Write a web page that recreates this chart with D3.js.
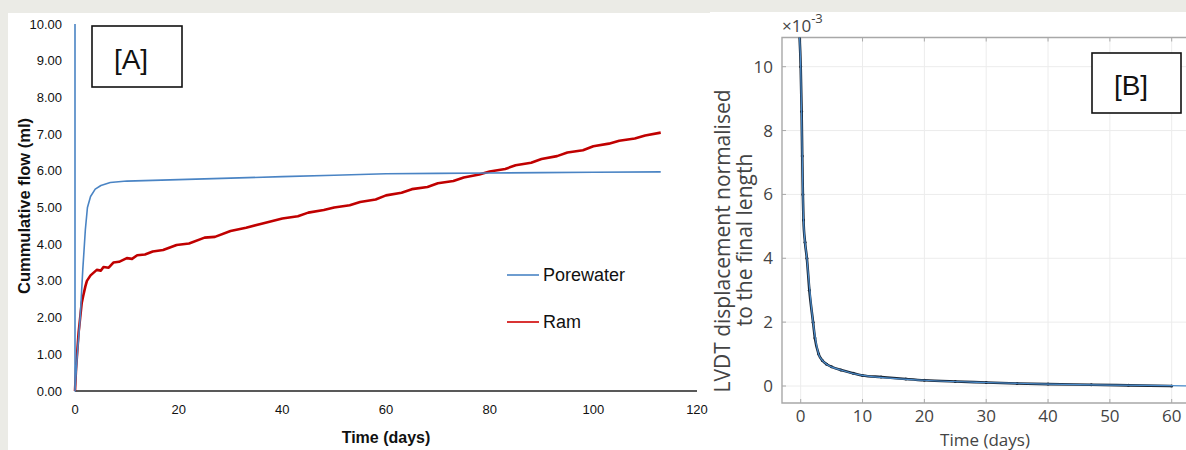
<!DOCTYPE html>
<html lang="en">
<head>
<meta charset="UTF-8">
<title>Cumulative flow and LVDT displacement</title>
<script src="https://d3js.org/d3.v7.min.js"></script>
<style>
    body { margin: 0; background: #ebebe6; }
    svg { display: block; }
    .tickA { font-family: "Liberation Sans", sans-serif; font-size: 13px; fill: #111; }
    .tickB { font-family: "Open Sans", sans-serif; font-size: 17px; fill: #444; }
</style>
</head>
<body>
<svg width="1186" height="450"></svg>
<script>
    // ---- panel A data (days, ml) ----
    const poreDays  = [0, 0, 0.45, 1.0, 1.5, 2.0, 2.4, 3.0, 3.9, 5.0, 6.8, 10, 15, 20, 30, 40, 50, 60, 70, 80, 90, 100, 113];
    const poreFlow  = [10, 0, 1.0, 2.0, 3.3, 4.4, 5.0, 5.3, 5.5, 5.6, 5.68, 5.72, 5.74, 5.76, 5.8, 5.84, 5.88, 5.92, 5.93, 5.94, 5.95, 5.96, 5.97];
    const ramDays   = [0, 0.2, 0.4, 0.7, 1, 1.3, 1.6, 2, 2.3, 3, 4.2, 5, 5.5, 6.5, 7.4, 8.5, 10, 11, 12, 13.5, 15, 17, 19.6, 22, 25, 27, 30, 33,
                       36, 40, 43, 45, 48, 50, 53, 55, 58, 60, 63, 65, 68, 70, 73, 75, 78, 80, 83, 85, 88, 90, 93, 95, 98, 100, 103, 105, 108, 110, 113];
    const ramFlow   = [0, 0.6, 1.0, 1.6, 2.0, 2.4, 2.6, 2.85, 3.0, 3.15, 3.3, 3.28, 3.38, 3.36, 3.5, 3.52, 3.62, 3.6, 3.7, 3.72, 3.8, 3.84, 3.98, 4.02, 4.18, 4.2, 4.36, 4.45,
                       4.56, 4.7, 4.76, 4.86, 4.93, 5.0, 5.06, 5.15, 5.22, 5.33, 5.4, 5.5, 5.56, 5.66, 5.72, 5.82, 5.9, 5.98, 6.05, 6.15, 6.22, 6.32, 6.4, 6.5, 6.56, 6.67, 6.74, 6.82, 6.88, 6.96, 7.04];
    const yTicksA   = [0, 1, 2, 3, 4, 5, 6, 7, 8, 9, 10];
    const xTicksA   = [0, 20, 40, 60, 80, 100, 120];

    // ---- panel B data (days, x1e-3) ----
    const lvdtDays  = [-0.2, 0, 0.15, 0.25, 0.35, 0.45, 0.7, 1.0, 1.4, 2.0, 2.3, 2.9, 3.5, 4.2, 5, 6.5, 8.5, 10, 13, 17, 20, 25, 30, 35, 40, 47, 53, 60];
    const lvdtVals  = [11, 10, 8.6, 7.2, 6.0, 5.2, 4.5, 4.0, 3.0, 2.0, 1.5, 1.0, 0.8, 0.68, 0.6, 0.5, 0.4, 0.33, 0.28, 0.22, 0.18, 0.14, 0.11, 0.08, 0.06, 0.04, 0.02, 0.0];
    const fitDays   = [-0.2, 0, 0.25, 0.45, 1.0, 2.0, 2.9, 3.5, 4.2, 6.5, 10, 20, 30, 40, 50, 60, 64];
    const fitVals   = [11, 10, 7.2, 5.2, 4.0, 2.0, 1.0, 0.8, 0.68, 0.5, 0.33, 0.18, 0.11, 0.06, 0.03, 0.01, 0.0];
    const yTicksB   = [0, 2, 4, 6, 8, 10];
    const xTicksB   = [0, 10, 20, 30, 40, 50, 60];

    const svg = d3.select("svg");

    // white panels
    svg.append("rect").attr("x", 8).attr("y", 13).attr("width", 702).attr("height", 437).attr("fill", "#fff");
    svg.append("rect").attr("x", 710).attr("y", 12).attr("width", 476).attr("height", 438).attr("fill", "#fff");

    /////////////////// PANEL A ///////////////////
    const xA = d3.scaleLinear().domain([0, 120]).range([75, 697]);
    const yA = d3.scaleLinear().domain([0, 10]).range([391, 24]);
    const gA = svg.append("g");

    gA.append("line").attr("x1", xA(0)).attr("x2", xA(120)).attr("y1", yA(0)).attr("y2", yA(0))
        .attr("stroke", "#222").attr("stroke-width", 1.3);

    gA.selectAll(".ya").data(yTicksA).enter().append("text")
        .attr("class", "tickA").attr("x", 62).attr("y", d => yA(d) + 4.5)
        .attr("text-anchor", "end").text(d => d.toFixed(2));
    gA.selectAll(".xa").data(xTicksA).enter().append("text")
        .attr("class", "tickA").attr("x", d => xA(d)).attr("y", 414)
        .attr("text-anchor", "middle").text(d => d);

    const lineA = d3.line().x(d => xA(d[0])).y(d => yA(d[1]));
    gA.append("path").datum(ramDays.map((d, i) => [d, ramFlow[i]]))
        .attr("d", lineA).attr("fill", "none").attr("stroke", "#c00000").attr("stroke-width", 2.6)
        .attr("stroke-linejoin", "round");
    gA.append("path").datum(poreDays.map((d, i) => [d, poreFlow[i]]))
        .attr("d", lineA).attr("fill", "none").attr("stroke", "#4a84c4").attr("stroke-width", 1.6)
        .attr("stroke-linejoin", "round");

    gA.append("text").attr("transform", "translate(30,206) rotate(-90)")
        .attr("text-anchor", "middle").attr("font-family", "Liberation Sans, sans-serif")
        .attr("font-weight", "bold").attr("font-size", 16.5).attr("fill", "#111")
        .text("Cummulative flow (ml)");
    gA.append("text").attr("x", 386).attr("y", 443)
        .attr("text-anchor", "middle").attr("font-family", "Liberation Sans, sans-serif")
        .attr("font-weight", "bold").attr("font-size", 16).attr("fill", "#111")
        .text("Time (days)");

    // legend
    const legend = [["Porewater", "#4a84c4", 275], ["Ram", "#d00000", 322]];
    legend.forEach(function (l) {
        gA.append("line").attr("x1", 507).attr("x2", 539).attr("y1", l[2]).attr("y2", l[2])
            .attr("stroke", l[1]).attr("stroke-width", 1.6);
        gA.append("text").attr("x", 543).attr("y", l[2] + 6)
            .attr("font-family", "Liberation Sans, sans-serif").attr("font-size", 18).attr("fill", "#111")
            .text(l[0]);
    });

    gA.append("rect").attr("x", 92).attr("y", 26).attr("width", 90).attr("height", 61)
        .attr("fill", "#fff").attr("stroke", "#111").attr("stroke-width", 1.6);
    gA.append("text").attr("x", 131).attr("y", 69).attr("text-anchor", "middle")
        .attr("font-family", "Liberation Sans, sans-serif").attr("font-size", 28).attr("fill", "#111")
        .text("[A]");

    /////////////////// PANEL B ///////////////////
    const xB = d3.scaleLinear().domain([0, 60]).range([800.7, 1171.7]);
    const yB = d3.scaleLinear().domain([0, 10]).range([386, 66.7]);
    const bLeft = 782, bTop = 37.5, bBottom = 403, bRight = 1186;
    const gB = svg.append("g");

    gB.selectAll(".gx").data(xTicksB).enter().append("line")
        .attr("x1", d => xB(d)).attr("x2", d => xB(d)).attr("y1", bTop).attr("y2", bBottom)
        .attr("stroke", "#ececec");
    gB.selectAll(".gy").data(yTicksB).enter().append("line")
        .attr("x1", bLeft).attr("x2", bRight).attr("y1", d => yB(d)).attr("y2", d => yB(d))
        .attr("stroke", "#ececec");
    // inner ticks
    gB.selectAll(".tx").data(xTicksB).enter().append("line")
        .attr("x1", d => xB(d)).attr("x2", d => xB(d)).attr("y1", bBottom).attr("y2", bBottom - 4)
        .attr("stroke", "#aaa");
    gB.selectAll(".tt").data(xTicksB).enter().append("line")
        .attr("x1", d => xB(d)).attr("x2", d => xB(d)).attr("y1", bTop).attr("y2", bTop + 4)
        .attr("stroke", "#aaa");
    gB.selectAll(".ty").data(yTicksB).enter().append("line")
        .attr("x1", bLeft).attr("x2", bLeft + 4).attr("y1", d => yB(d)).attr("y2", d => yB(d))
        .attr("stroke", "#aaa");

    gB.append("path").attr("d", `M${bRight},${bTop}H${bLeft}V${bBottom}H${bRight}`)
        .attr("fill", "none").attr("stroke", "#a8a8a8").attr("stroke-width", 1.4);

    gB.selectAll(".yb").data(yTicksB).enter().append("text")
        .attr("class", "tickB").attr("x", 773).attr("y", d => yB(d) + 6)
        .attr("text-anchor", "end").text(d => d);
    gB.selectAll(".xb").data(xTicksB).enter().append("text")
        .attr("class", "tickB").attr("x", d => xB(d)).attr("y", 422)
        .attr("text-anchor", "middle").text(d => d);

    const exp = gB.append("text").attr("x", 782).attr("y", 32).attr("class", "tickB")
        .attr("font-size", 19).attr("fill", "#444");
    exp.append("tspan").text("\u00d710");
    exp.append("tspan").attr("dy", -9).attr("font-size", 13).text("-3");

    svg.append("clipPath").attr("id", "clipB").append("rect")
        .attr("x", bLeft).attr("y", bTop).attr("width", bRight - bLeft).attr("height", bBottom - bTop);

    const lineB = d3.line().x(d => xB(d[0])).y(d => yB(d[1])).curve(d3.curveMonotoneX);
    const dataB = lvdtDays.map((d, i) => [d, lvdtVals[i]]);
    gB.append("path").datum(dataB).attr("clip-path", "url(#clipB)")
        .attr("d", lineB).attr("fill", "none").attr("stroke", "#1b2736").attr("stroke-width", 2.6)
        .attr("stroke-linejoin", "round");
    gB.append("g").attr("clip-path", "url(#clipB)").selectAll("circle").data(dataB).enter().append("circle")
        .attr("cx", d => xB(d[0])).attr("cy", d => yB(d[1])).attr("r", 1.5).attr("fill", "#1b2736");
    gB.append("path").datum(fitDays.map((d, i) => [d, fitVals[i]])).attr("clip-path", "url(#clipB)")
        .attr("d", lineB).attr("fill", "none").attr("stroke", "#4a8ccc").attr("stroke-width", 1.2)
        .attr("stroke-linejoin", "round");

    gB.append("text").attr("transform", "translate(730,241) rotate(-90)")
        .attr("text-anchor", "middle").attr("font-family", "Open Sans, sans-serif")
        .attr("font-size", 21).attr("fill", "#444").text("LVDT displacement normalised");
    gB.append("text").attr("transform", "translate(752,240) rotate(-90)")
        .attr("text-anchor", "middle").attr("font-family", "Open Sans, sans-serif")
        .attr("font-size", 21).attr("fill", "#444").text("to the final length");
    gB.append("text").attr("x", 985).attr("y", 446).attr("text-anchor", "middle")
        .attr("font-family", "Open Sans, sans-serif").attr("font-size", 17).attr("fill", "#444")
        .text("Time (days)");

    gB.append("rect").attr("x", 1092).attr("y", 53).attr("width", 89).attr("height", 60)
        .attr("fill", "#fff").attr("stroke", "#111").attr("stroke-width", 1.6);
    gB.append("text").attr("x", 1131).attr("y", 95).attr("text-anchor", "middle")
        .attr("font-family", "Liberation Sans, sans-serif").attr("font-size", 28).attr("fill", "#111")
        .text("[B]");
</script>
</body>
</html>
